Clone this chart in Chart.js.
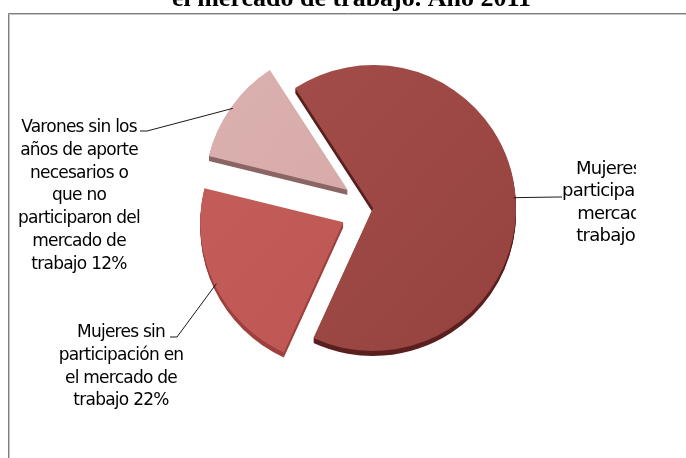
<!DOCTYPE html>
<html>
<head>
<meta charset="utf-8">
<script src="https://cdn.jsdelivr.net/npm/chart.js@4.4.0/dist/chart.umd.min.js"></script>
<style>
  html, body { margin: 0; padding: 0; background: #fff; overflow: hidden; }
  canvas { display: block; }
</style>
</head>
<body>
<canvas id="pieChart" width="686" height="458"></canvas>
<script>
const titleText = "el mercado de trabajo. Año 2011";
const categories = [
    ["Mujeres que", "participaron del", "mercado de", "trabajo"],
    ["Mujeres sin", "participación en", "el mercado de", "trabajo"],
    ["Varones sin los", "años de aporte", "necesarios o", "que no", "participaron del", "mercado de", "trabajo"]
];
const percents = [66, 22, 12];

const faceLight = ["#a44e4b", "#c55f5c", "#dbb1b0"];
const faceDark = ["#95423f", "#bb5451", "#d3a5a4"];
const sideColors = ["#5a201f", "#9e403e", "#8a6665"];
const explode = [0, 33, 31];
const depth = 5;

// label blocks: text centre, first baseline, line step, font size, leader elbow and end
const labelPos = [
    { x: 627, y: 174, step: 22.4, size: 18, elbow: [558, 197], end: [562, 197] },
    { x: 121, y: 337, step: 22.8, size: 17, elbow: [177, 337], end: [170, 337] },
    { x: 79, y: 132, step: 22.8, size: 17, elbow: [147, 131], end: [140, 131] }
];

function slicePos(arc, i) {
    const p = arc.getProps(["x", "y", "startAngle", "endAngle", "outerRadius"], true);
    const mid = (p.startAngle + p.endAngle) / 2;
    return {
        cx: p.x + Math.cos(mid) * explode[i],
        cy: p.y + Math.sin(mid) * explode[i],
        mid: mid,
        p: p
    };
}

const explodedPie = {
    id: "explodedPie",
    beforeDraw(chart) {
        const c = chart.ctx;
        c.save();
        c.fillStyle = "#fff";
        c.fillRect(0, 0, chart.width, chart.height);
        c.lineWidth = 1;
        c.strokeStyle = "#7f7f7f";
        c.beginPath();
        c.moveTo(8.5, chart.height);
        c.lineTo(8.5, 13.5);
        c.lineTo(chart.width, 13.5);
        c.stroke();
        c.strokeStyle = "#c4c4c4";
        c.beginPath();
        c.moveTo(9.5, chart.height);
        c.lineTo(9.5, 14.5);
        c.lineTo(chart.width, 14.5);
        c.stroke();
        c.restore();
    },
    beforeDatasetDraw(chart, args) {
        const c = chart.ctx;
        const arcs = args.meta.data;
        // thickness of the pie first
        arcs.forEach((arc, i) => {
            const s = slicePos(arc, i);
            c.save();
            c.fillStyle = sideColors[i];
            for (let k = depth; k >= 1; k--) {
                c.beginPath();
                c.moveTo(s.cx, s.cy + k);
                c.arc(s.cx, s.cy + k, s.p.outerRadius, s.p.startAngle, s.p.endAngle);
                c.closePath();
                c.fill();
            }
            c.restore();
        });
        arcs.forEach((arc, i) => {
            const s = slicePos(arc, i);
            c.save();
            c.translate(s.cx - s.p.x, s.cy - s.p.y);
            arc.draw(c);
            c.restore();
        });
        return false;
    },
    afterDatasetsDraw(chart) {
        const c = chart.ctx;
        const arcs = chart.getDatasetMeta(0).data;
        c.save();
        c.beginPath();
        c.rect(0, 0, 636, chart.height);
        c.clip();
        c.strokeStyle = "#1a1a1a";
        c.lineWidth = 1;
        c.fillStyle = "#000";
        c.letterSpacing = "-0.75px";
        c.textAlign = "center";
        c.textBaseline = "alphabetic";
        arcs.forEach((arc, i) => {
            const s = slicePos(arc, i);
            const r = s.p.outerRadius - 2;
            const lp = labelPos[i];
            c.beginPath();
            c.moveTo(s.cx + Math.cos(s.mid) * r, s.cy + Math.sin(s.mid) * r);
            c.lineTo(lp.elbow[0], lp.elbow[1]);
            c.lineTo(lp.end[0], lp.end[1]);
            c.stroke();
            c.font = lp.size + 'px "DejaVu Sans"';
            const lines = categories[i].slice();
            lines[lines.length - 1] += " " + percents[i] + "%";
            lines.forEach((t, j) => c.fillText(t, lp.x, lp.y + j * lp.step));
        });
        c.restore();

        c.save();
        c.fillStyle = "#000";
        c.font = 'bold 26px "Liberation Serif"';
        c.textAlign = "center";
        c.textBaseline = "alphabetic";
        c.fillText(titleText, 351.5, 6);
        c.restore();
    }
};

const ctx = document.getElementById("pieChart").getContext("2d");

const pieChart = new Chart(ctx, {
    type: "pie",
    data: {
        labels: categories,
        datasets: [
            {
                data: percents,
                backgroundColor: (context) => {
                    const i = context.dataIndex;
                    const area = context.chart.chartArea;
                    if (!area) return faceLight[i];
                    const g = context.chart.ctx.createLinearGradient(220, 70, 520, 350);
                    g.addColorStop(0, faceLight[i]);
                    g.addColorStop(1, faceDark[i]);
                    return g;
                },
                borderWidth: 0,
                hoverOffset: 0
            }
        ]
    },
    options: {
        responsive: false,
        animation: false,
        events: [],
        rotation: -33,
        radius: 143,
        layout: {
            padding: { left: 60, right: 0, top: 0, bottom: 42 }
        },
        plugins: {
            legend: { display: false },
            tooltip: { enabled: false },
            title: { display: false }
        }
    },
    plugins: [explodedPie]
});
</script>
</body>
</html>
